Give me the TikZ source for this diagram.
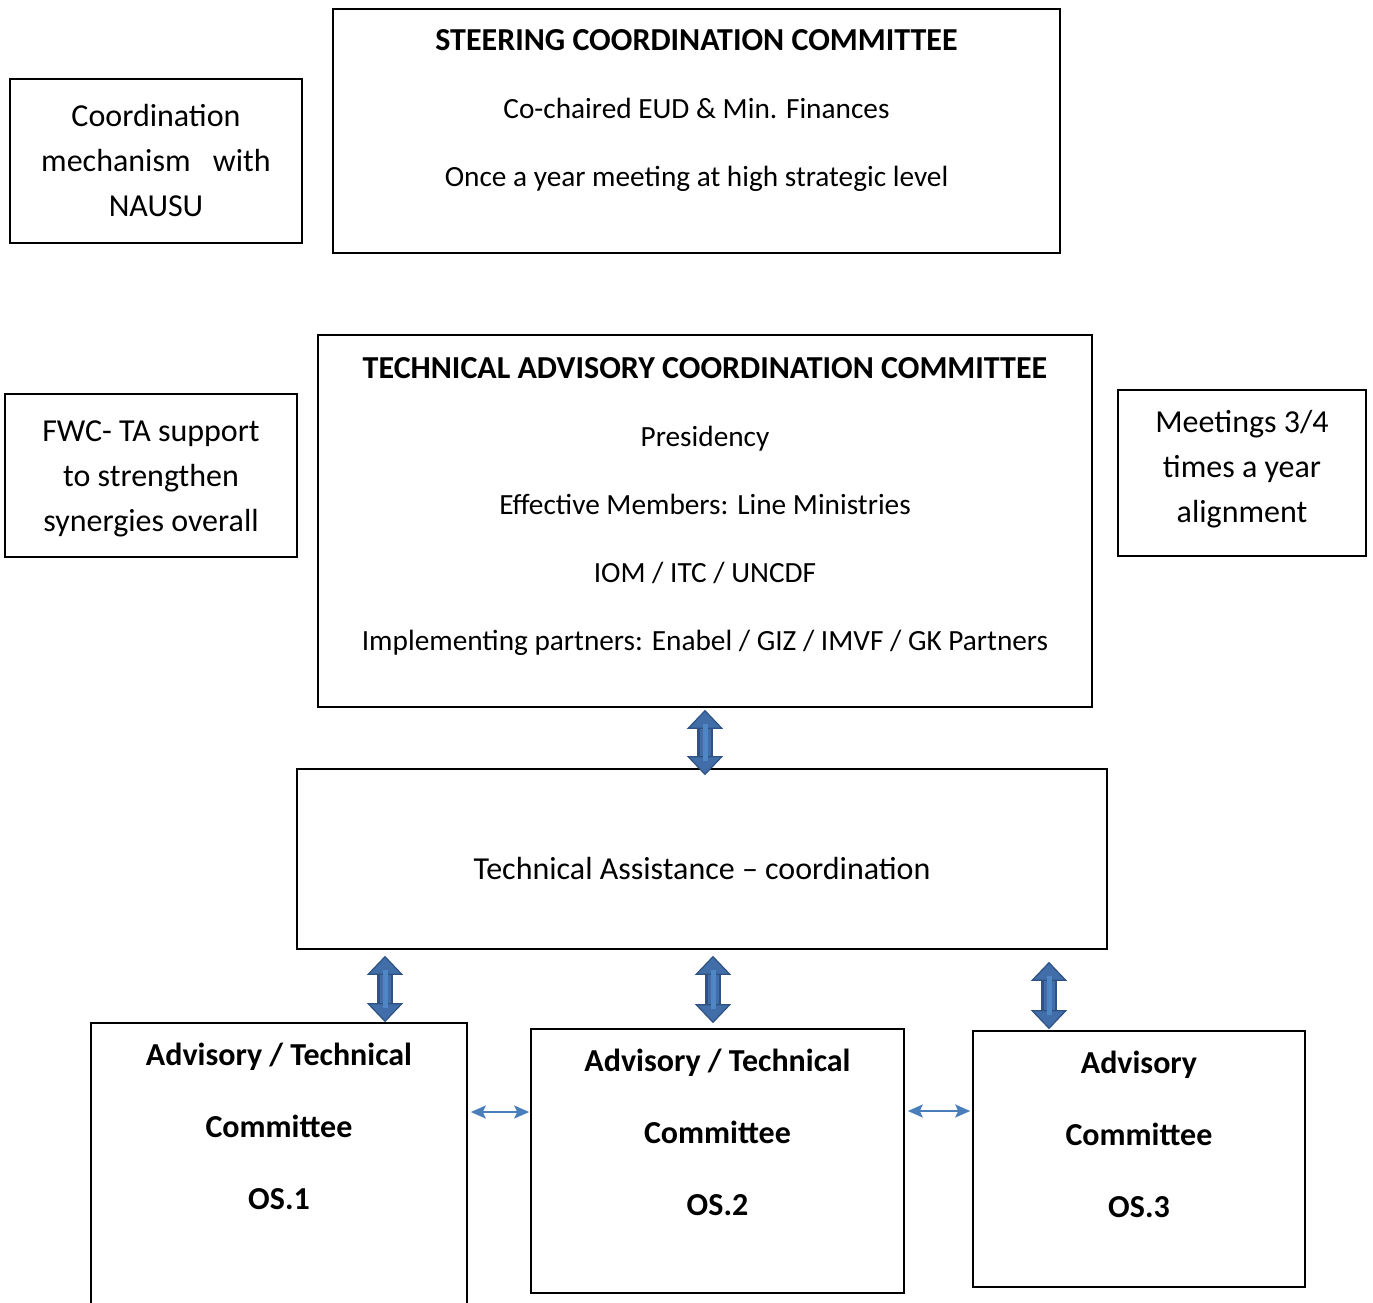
\documentclass[tikz,border=0pt]{standalone}
\usepackage{fontspec}
\setmainfont{Carlito}
\usetikzlibrary{arrows.meta,fit,positioning}
\definecolor{arrowdark}{RGB}{47,82,131}
\definecolor{arrowfill}{RGB}{65,109,168}
\definecolor{arrowlight}{RGB}{79,134,198}
\definecolor{linkblue}{RGB}{74,126,187}

\begin{document}
\begin{tikzpicture}[
            x=1pt, y=-1pt,
            box/.style={draw, line width=1.6pt, inner sep=0pt},
            boxtext/.style={align=center, anchor=north, inner sep=0pt,
            font=\fontsize{32}{45}\selectfont},
            bigtext/.style={boxtext, font=\fontsize{29.3}{68}\selectfont},
            ostext/.style={boxtext, font=\bfseries\fontsize{32}{72}\selectfont},
            headtip/.tip={Triangle[width=36pt, length=19pt, fill=arrowfill,
            color=arrowdark, line width=1.2pt]},
            bigarrow/.style={draw=arrowfill, line width=11pt, headtip-headtip,
            preaction={draw=arrowdark, line width=16pt, -, shorten <=17pt, shorten >=17pt},
            postaction={draw=arrowlight, line width=5pt, -, shorten <=14pt, shorten >=14pt}},
            link/.style={draw=linkblue, line width=2pt,
            {Stealth[width=13pt, length=15pt, inset=3pt]}-{Stealth[width=13pt, length=15pt, inset=3pt]}}
            ]
            \clip (0,0) rectangle (1373,1302);

            % top row
            \node[box, fit={(10,79) (302,243)}] (nausu) {};
            \node[boxtext] (nausutext) at (156,104.5)
                {Coordination\\ mechanism\hspace{0.7em}with\\ NAUSU};
            \node[box, fit={(333,9) (1060,253)}] (steer) {};
            \node[bigtext] (steertext) at (696.5,29.5)
                {{\bfseries\fontsize{32}{68}\selectfont STEERING COORDINATION COMMITTEE}\\
                 Co-chaired EUD \& Min. Finances\\
                 Once a year meeting at high strategic level};

            % middle row
            \node[box, fit={(5,394) (297,557)}] (fwc) {};
            \node[boxtext] (fwctext) at (151,420.5)
                {FWC- TA support\\ to strengthen\\ synergies overall};
            \node[box, fit={(318,335) (1092,707)}] (tacc) {};
            \node[bigtext] (tacctext) at (705,357)
                {{\bfseries\fontsize{32}{68}\selectfont TECHNICAL ADVISORY COORDINATION COMMITTEE}\\
                 Presidency\\
                 Effective Members: Line Ministries\\ IOM / ITC / UNCDF\\
                 Implementing partners: Enabel / GIZ / IMVF / GK Partners};
            \node[box, fit={(1118,390) (1366,556)}] (meet) {};
            \node[boxtext] (meettext) at (1242,410)
                {Meetings 3/4\\ times a year\\ alignment};

            % technical assistance
            \node[box, fit={(297,769) (1107,949)}] (ta) {};
            \node[boxtext, anchor=center] (tatext) at (702,868)
                {Technical Assistance -- coordination};

            % committees
            \node[box, fit={(91,1023) (467,1330)}] (os1) {};
            \node[ostext] (os1text) at (279,1043)
                {Advisory / Technical\\ Committee\\ OS.1};
            \node[box, fit={(531,1029) (904,1293)}] (os2) {};
            \node[ostext] (os2text) at (717.5,1048.5)
                {Advisory / Technical\\ Committee\\ OS.2};
            \node[box, fit={(973,1031) (1305,1287)}] (os3) {};
            \node[ostext] (os3text) at (1139,1050.5)
                {Advisory\\ Committee\\ OS.3};

            % block arrows
            \draw[bigarrow] ([yshift=-2pt]tacc.south) -- ([yshift=-7pt]tacc.south |- ta.north);
            \draw[bigarrow] ([yshift=-6pt]ta.south -| 385,0) -- (os1.north -| 385,0);
            \draw[bigarrow] ([yshift=-6pt]ta.south -| 713,0) -- ([yshift=5pt]os2.north -| 713,0);
            \draw[bigarrow] ([yshift=-12pt]ta.south -| 1049,0) -- ([yshift=1pt]os3.north -| 1049,0);

            % links between committees
            \draw[link] ([xshift=3pt]os1.east |- 0,1112) -- ([xshift=-1pt]os2.west |- 0,1112);
            \draw[link] ([xshift=3pt]os2.east |- 0,1111) -- ([xshift=-2pt]os3.west |- 0,1111);

        \end{tikzpicture}
\end{document}
